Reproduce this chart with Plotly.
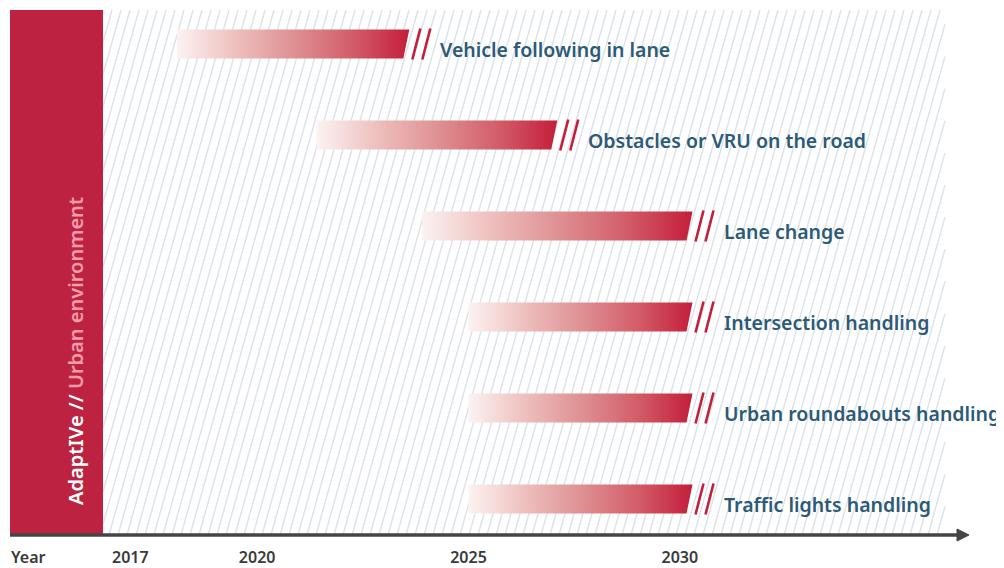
import plotly.graph_objects as go

# ---------------- data ----------------
capabilities = ["Vehicle following in lane", "Obstacles or VRU on the road", "Lane change",
                "Intersection handling", "Urban roundabouts handling", "Traffic lights handling"]
start_year = [2018.1, 2021.4, 2023.9, 2025.0, 2025.0, 2025.0]
end_year = [2023.6, 2027.1, 2030.3, 2030.3, 2030.3, 2030.3]
tick_years = [2017, 2020, 2025, 2030]
tick_labels = ["2017", "2020", "2025", "2030"]
axis_title = "Year"
side_title_a = "AdaptIVe //"
side_title_b = "Urban environment"

# ---------------- style ----------------
OFF = 8                      # page body margin offset
W, H = 1004 - OFF, 568 - OFF
AXIS_Y = 535                 # page px of the time axis
PLOT_H = AXIS_Y - OFF        # plot area height in figure px
X_RANGE = [2014.106, 2037.669]
Y_RANGE = [5.3956, -0.3956]
PXY = W / (X_RANGE[1] - X_RANGE[0])      # px per year
PXR = PLOT_H / (Y_RANGE[0] - Y_RANGE[1])  # px per row
RED = "#c41e3a"
SIDE_RED = "#bd2340"
LABEL_BLUE = "#2c5a77"
FONT = "Noto Sans"
BAR_HALF = 14.5 / PXR
BAR_SLANT = 6 / PXY


def px(x):
    """page px -> paper x"""
    return (x - OFF) / W


def py(y):
    """page px -> paper y"""
    return (AXIS_Y - y) / PLOT_H


fig = go.Figure()

# gradient bars
for i, (s, e) in enumerate(zip(start_year, end_year)):
    top, bot = i - BAR_HALF, i + BAR_HALF
    fig.add_trace(go.Scatter(
        x=[s, e, e - BAR_SLANT, s, s], y=[top, top, bot, bot, top],
        mode="lines", fill="toself", line=dict(width=0, color=RED),
        fillgradient=dict(type="horizontal",
                          colorscale=[[0, "#fbf3f2"], [0.25, "#eec0be"], [0.5, "#df9193"],
                                      [0.75, "#d35e6a"], [1, RED]]),
        hoverinfo="skip", showlegend=False))

# "//" marks after each bar
mx, my = [], []
for i, e in enumerate(end_year):
    top, bot = i - BAR_HALF - 1 / PXR, i + BAR_HALF + 1 / PXR
    for b0, t0 in ((3, 11), (13, 21)):
        mx += [e + b0 / PXY, e + t0 / PXY, None]
        my += [bot, top, None]
fig.add_trace(go.Scatter(x=mx, y=my, mode="lines", line=dict(color=RED, width=2.6),
                         hoverinfo="skip", showlegend=False))

# labels
annotations = []
for i, (name, e) in enumerate(zip(capabilities, end_year)):
    annotations.append(dict(x=e, y=i, xref="x", yref="y", text=name, showarrow=False,
                            xanchor="left", yanchor="middle", xshift=29, yshift=-5,
                            font=dict(family=FONT, size=19.5, color=LABEL_BLUE, weight=600)))

annotations.append(dict(x=px(28), y=py(557), xref="paper", yref="paper", text=axis_title,
                        showarrow=False, xanchor="center", yanchor="middle",
                        font=dict(family=FONT, size=16, color="#3a3a3a", weight=600)))
annotations.append(dict(x=px(75), y=py(351), xref="paper", yref="paper", textangle=-90,
                        text=f"{side_title_a} <span style='color:#f59cab'>{side_title_b}</span>",
                        showarrow=False, xanchor="center", yanchor="middle",
                        font=dict(family=FONT, size=20, color="white", weight=600)))

# hatch background
HX0, HX1, HY0, HY1 = 103, 945, 10, 535
K = 0.28
STEP = 9.0
path = []
b = HX0 - K * (HY1 - HY0)
while b < HX1:
    d_lo = max(0.0, (HX0 - b) / K)
    d_hi = min(HY1 - HY0, (HX1 - b) / K)
    if d_hi > d_lo:
        x_a, y_a = b + K * d_lo, HY1 - d_lo
        x_b, y_b = b + K * d_hi, HY1 - d_hi
        path.append(f"M{px(x_a):.5f},{py(y_a):.5f}L{px(x_b):.5f},{py(y_b):.5f}")
    b += STEP

shapes = [
    dict(type="path", path="".join(path), xref="paper", yref="paper",
         line=dict(color="#dbe2e9", width=1.4), layer="below"),
    dict(type="rect", xref="paper", yref="paper", x0=px(10), x1=px(103), y0=py(535), y1=py(10),
         fillcolor=SIDE_RED, line=dict(width=0), layer="below"),
    dict(type="line", xref="paper", yref="paper", x0=px(10), x1=px(962), y0=py(535), y1=py(535),
         line=dict(color="#454545", width=3.5)),
    dict(type="path", xref="paper", yref="paper",
         path=f"M{px(957)},{py(529)}L{px(969)},{py(535)}L{px(957)},{py(541)}Z",
         fillcolor="#454545", line=dict(color="#454545", width=1)),
]

fig.update_layout(
    width=W, height=H, margin=dict(l=0, r=0, t=0, b=H - PLOT_H),
    paper_bgcolor="white", plot_bgcolor="white",
    xaxis=dict(range=X_RANGE, tickvals=tick_years, ticktext=tick_labels, ticks="outside",
               ticklen=8, tickcolor="rgba(0,0,0,0)", showgrid=False, zeroline=False,
               showline=False, tickfont=dict(family=FONT, size=16, color="#3a3a3a", weight=600),
               fixedrange=True),
    yaxis=dict(range=Y_RANGE, visible=False, fixedrange=True),
    shapes=shapes, annotations=annotations, showlegend=False,
)

fig.write_html("out.html")
